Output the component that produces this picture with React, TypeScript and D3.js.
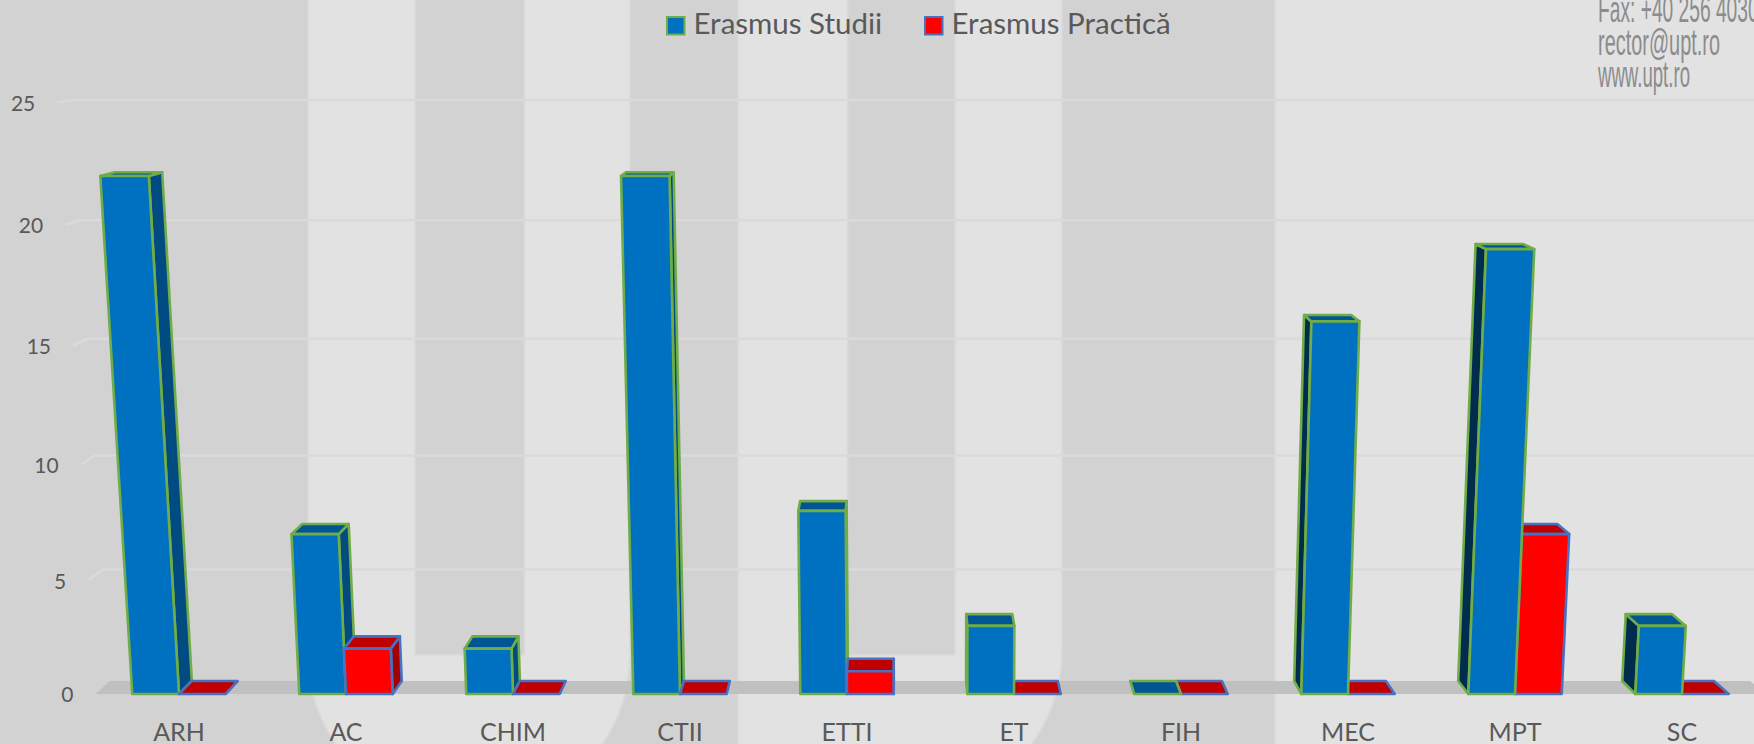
import React, { useEffect, useRef } from "react";
import * as d3 from "d3";

const categories = ["ARH", "AC", "CHIM", "CTII", "ETTI", "ET", "FIH", "MEC", "MPT", "SC"];
const seriesNames = ["Erasmus Studii", "Erasmus Practică"];
const studii = [22, 7, 2, 22, 8, 3, 0, 16, 19, 3];
const practica = [0, 2, 0, 0, 1, 0, 0, 0, 7, 0];
const yTicks = [0, 5, 10, 15, 20, 25];
const contactLines = ["Fax: +40 256 403021", "rector@upt.ro", "www.upt.ro"];

const width = 1754;
const height = 744;
const labelFont = "Lato, 'Open Sans', sans-serif";
const textColor = "#595959";

// the chart was a 3D column chart, so the value axis is not quite linear
const baseY = 694;
const tiltCx = 945;
const tilt = 7.6e-5;
const depthCx = 900;
const depthCy = -36;
const depth = 0.0178;

type Pt = [number, number];

const faces = [
  { front: "#0070c0", top: "#005694", right: "#004b82", left: "#002c4e", stroke: "#70ad47" },
  { front: "#ff0000", top: "#c00000", right: "#a50000", left: "#7a0000", stroke: "#4472c4" },
];

const App: React.FC = () => {
  const svgRef = useRef<SVGSVGElement | null>(null);

  useEffect(() => {
    const svg = d3.select(svgRef.current);
    svg.selectAll("*").remove();

    const y = d3.scaleLinear().domain(yTicks).range([baseY, 580.5, 464.5, 345.5, 225, 102.5]);
    const x0 = d3.scaleBand().domain(categories).range([95.5, 1765.5]);
    const x1 = d3
      .scaleBand()
      .domain(seriesNames)
      .range([x0.bandwidth() / 2 - 46.7, x0.bandwidth() / 2 + 46.7]);

    const front = (x: number, v: number): Pt => {
      const py = y(v);
      return [tiltCx + (x - tiltCx) * (1 + tilt * (baseY - py)), py];
    };
    const back = ([px, py]: Pt): Pt => [
      depthCx + (px - depthCx) * (1 - depth),
      depthCy + (py - depthCy) * (1 - depth),
    ];
    const line = d3.line();
    const poly = (pts: Pt[]) => line(pts) + "Z";

    // background watermark
    const defs = svg.append("defs");
    defs.append("filter").attr("id", "soft").append("feGaussianBlur").attr("stdDeviation", 1.2);
    const bg = svg.append("g").attr("filter", "url(#soft)");
    bg.append("rect").attr("x", -5).attr("y", -5).attr("width", width + 10).attr("height", height + 10).attr("fill", "#d2d2d2");
    const light = "#e2e2e2";
    bg.append("path").attr("fill", light).attr("d", "M308,-5H630V650A161,161 0 0 1 599,749H339A161,161 0 0 1 308,650Z");
    bg.append("path").attr("fill", light).attr("d", "M738,-5H1062V650A162,162 0 0 1 1028,749H738Z");
    bg.append("rect").attr("x", 1275).attr("y", -5).attr("width", 490).attr("height", 760).attr("fill", light);
    bg.append("rect").attr("x", 415).attr("y", -5).attr("width", 109.5).attr("height", 660).attr("fill", "#d2d2d2");
    bg.append("rect").attr("x", 847.5).attr("y", -5).attr("width", 107.5).attr("height", 660).attr("fill", "#d2d2d2");

    // contact text from the slide behind the chart
    svg
      .append("g")
      .selectAll("text")
      .data(contactLines)
      .join("text")
      .attr("x", 1598)
      .attr("y", (_, i) => 22 + i * 32.5)
      .attr("textLength", (_, i) => [182, 122, 92][i])
      .attr("lengthAdjust", "spacingAndGlyphs")
      .attr("font-family", "'Liberation Sans Narrow', 'Liberation Sans', sans-serif")
      .attr("font-size", 36)
      .attr("fill", "#8c8c8c")
      .text((d) => d);

    const [left, right] = x0.range();

    // gridlines on the side and back wall
    svg
      .append("g")
      .selectAll("path")
      .data(yTicks.slice(1))
      .join("path")
      .attr("fill", "none")
      .attr("stroke", "#dadada")
      .attr("stroke-width", 2.5)
      .attr("d", (v) => line([front(left, v), back(front(left, v)), back(front(right, v))]));

    // floor
    svg
      .append("path")
      .attr("fill", "#c0c0c0")
      .attr("d", poly([front(left, 0), front(right, 0), back(front(right, 0)), back(front(left, 0))]));

    // y tick labels
    svg
      .append("g")
      .selectAll("text")
      .data(yTicks)
      .join("text")
      .attr("x", (v) => front(left, v)[0] - 22)
      .attr("y", (v) => y(v) + 1)
      .attr("dy", "0.35em")
      .attr("text-anchor", "end")
      .attr("font-family", labelFont)
      .attr("font-size", 21)
      .attr("fill", textColor)
      .text((v) => v);

    // category labels
    svg
      .append("g")
      .selectAll("text")
      .data(categories)
      .join("text")
      .attr("x", (c) => (x0(c) as number) + x0.bandwidth() / 2)
      .attr("y", 741)
      .attr("text-anchor", "middle")
      .attr("font-family", labelFont)
      .attr("font-size", 25)
      .attr("fill", textColor)
      .text((c) => c);

    const drawBar = (g: any, xa: number, xb: number, v: number, c: (typeof faces)[number]) => {
      const fl0 = front(xa, 0);
      const fr0 = front(xb, 0);
      const flv = front(xa, v);
      const frv = front(xb, v);
      const face = (pts: Pt[], fill: string) =>
        g
          .append("path")
          .attr("d", poly(pts))
          .attr("fill", fill)
          .attr("stroke", c.stroke)
          .attr("stroke-width", 2.6)
          .attr("stroke-linejoin", "round");

      if (v > 0) {
        if (xb < depthCx) face([frv, fr0, back(fr0), back(frv)], c.right);
        if (xa > depthCx) face([flv, fl0, back(fl0), back(flv)], c.left);
      }
      face([flv, frv, back(frv), back(flv)], c.top);
      if (v > 0) face([flv, frv, fr0, fl0], c.front);
    };

    // bars, painted from the outside towards the vanishing point
    const bars = svg.append("g");
    categories.forEach((cat, i) => {
      const start = x0(cat) as number;
      const g = bars.append("g");
      const order = start + x0.bandwidth() / 2 < depthCx ? [0, 1] : [1, 0];
      order.forEach((s) => {
        const name = seriesNames[s];
        const xa = start + (x1(name) as number);
        drawBar(g, xa, xa + x1.bandwidth(), (s === 0 ? studii : practica)[i], faces[s]);
      });
    });

    // legend
    const legendX = [666, 924];
    const legend = svg
      .append("g")
      .selectAll("g")
      .data(seriesNames)
      .join("g")
      .attr("transform", (_, i) => `translate(${legendX[i]},16)`);
    legend
      .append("rect")
      .attr("x", 1)
      .attr("y", 1)
      .attr("width", 17.5)
      .attr("height", 17.5)
      .attr("fill", (_, i) => faces[i].front)
      .attr("stroke", (_, i) => faces[i].stroke)
      .attr("stroke-width", 2);
    legend
      .append("text")
      .attr("x", 27.5)
      .attr("y", 18)
      .attr("font-family", labelFont)
      .attr("font-size", 29.5)
      .attr("fill", textColor)
      .text((d) => d);
  }, []);

  return (
    <svg
      ref={svgRef}
      width={width}
      height={height}
      viewBox={`0 0 ${width} ${height}`}
      style={{ position: "absolute", left: 0, top: 0, display: "block" }}
    />
  );
};

export default App;
